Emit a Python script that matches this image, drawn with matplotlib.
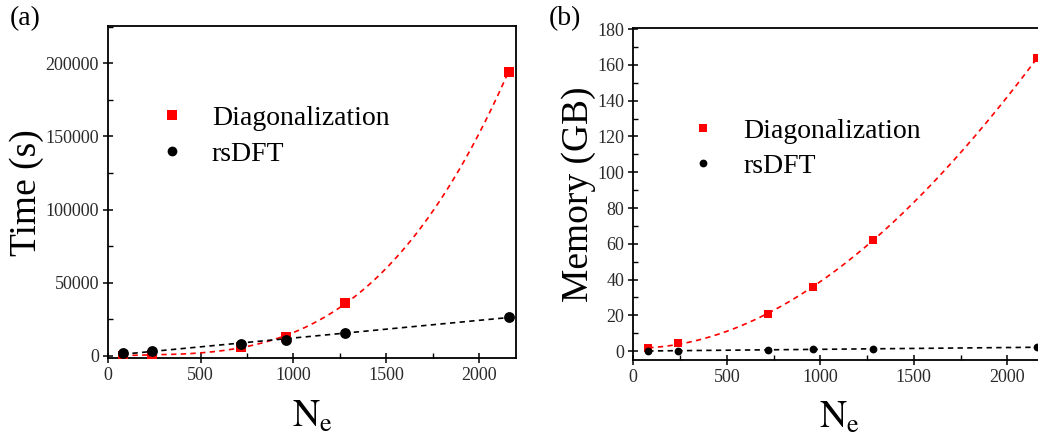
import numpy as np
import matplotlib
matplotlib.use("Agg")
import matplotlib.pyplot as plt
from matplotlib.ticker import MultipleLocator

plt.rcParams['font.family'] = ['Liberation Serif', 'DejaVu Serif']
plt.rcParams['mathtext.fontset'] = 'stix'

# number of electrons
n_e = [80, 240, 720, 960, 1280, 2160]

# wall time (s)
time_diag = [200, 700, 6400, 13000, 36200, 194300]
time_rsdft = [1800, 3600, 8200, 10900, 15500, 26900]

# peak memory (GB)
mem_diag = [1.5, 4.3, 21.0, 35.6, 62.0, 163.8]
mem_rsdft = [0.1, 0.1, 0.8, 0.9, 1.3, 2.1]

RED = '#ff0000'
TICK_COLOR = '#2a2a2a'
DASH = (3.2, 2.6)


def style_axes(ax, ymajor, yminor):
    for sp in ax.spines.values():
        sp.set_linewidth(1.3)
    ax.xaxis.set_major_locator(MultipleLocator(500))
    ax.xaxis.set_minor_locator(MultipleLocator(250))
    ax.yaxis.set_major_locator(MultipleLocator(ymajor))
    ax.yaxis.set_minor_locator(MultipleLocator(yminor))
    ax.tick_params(which='major', direction='inout', length=7, width=1.1,
                   labelsize=13, labelcolor=TICK_COLOR, pad=3,
                   top=False, right=False)
    ax.tick_params(which='minor', direction='in', length=3.5, width=1.0,
                   top=False, right=False)
    for lbl in ax.get_xticklabels() + ax.get_yticklabels():
        lbl.set_fontfamily('Liberation Serif')


def draw_panel(ax, x, y_diag, y_rsdft, deg_diag, ms_sq, ms_ci):
    x = np.asarray(x, dtype=float)
    xs = np.linspace(x.min(), x.max(), 300)
    fit_diag = np.polyval(np.polyfit(x, y_diag, deg_diag), xs)
    fit_rsdft = np.polyval(np.polyfit(x, y_rsdft, 1), xs)

    ax.plot(xs, fit_diag, color=RED, lw=1.2, dashes=DASH, zorder=2)
    ax.plot(xs, fit_rsdft, color='black', lw=1.2, dashes=DASH, zorder=2)
    ax.plot(x, y_diag, 's', color=RED, ms=ms_sq, mew=0, zorder=3,
            label='Diagonalization')
    ax.plot(x, y_rsdft, 'o', color='black', ms=ms_ci, mew=0, zorder=4,
            label='rsDFT')


fig = plt.figure(figsize=(10.38, 4.36), dpi=100)

# (a) time
ax1 = fig.add_axes([0.1040, 0.1782, 0.3931, 0.7622])
draw_panel(ax1, n_e, time_diag, time_rsdft, 3, 7.6, 7.8)
ax1.set_xlim(0, 2200)
ax1.set_ylim(-1600, 225500)
style_axes(ax1, 50000, 25000)
ax1.set_xlabel(r'$\mathrm{N_e}$', fontsize=27, labelpad=11)
ax1.set_ylabel('Time (s)', fontsize=27, labelpad=1)
ax1.legend(loc='upper left', bbox_to_anchor=(0.122, 0.762), frameon=False,
           fontsize=20, handlelength=1.0, handletextpad=0.95,
           labelspacing=0.38, borderpad=0, borderaxespad=0, markerscale=0.9)
fig.text(0.009, 0.985, '(a)', fontsize=20, va='top', ha='left')

# (b) memory
ax2 = fig.add_axes([0.6101, 0.1743, 0.3963, 0.7608])
draw_panel(ax2, n_e, mem_diag, mem_rsdft, 3, 5.9, 5.6)
ax2.set_xlim(0, 2200)
ax2.set_ylim(-5, 180.5)
style_axes(ax2, 20, 10)
ax2.set_xlabel(r'$\mathrm{N_e}$', fontsize=27, labelpad=10)
ax2.set_ylabel('Memory (GB)', fontsize=27, labelpad=1)
ax2.legend(loc='upper left', bbox_to_anchor=(0.136, 0.728), frameon=False,
           fontsize=20, handlelength=1.0, handletextpad=0.95,
           labelspacing=0.33, borderpad=0, borderaxespad=0)
fig.text(0.529, 0.985, '(b)', fontsize=20, va='top', ha='left')

fig.savefig('out.png', dpi=100)
